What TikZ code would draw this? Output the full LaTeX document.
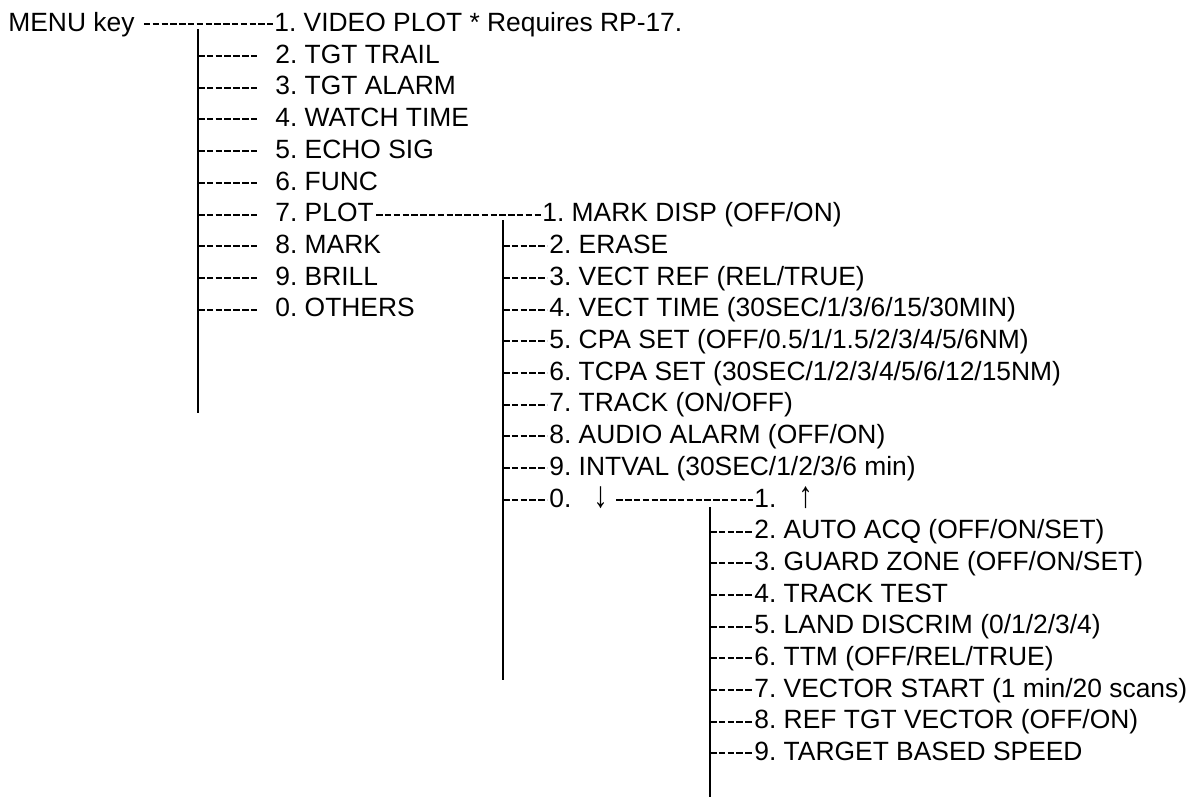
\documentclass[tikz,border=0pt]{standalone}
\usepackage{graphicx}
\usepackage{fontspec}
\newfontfamily\menufont{Liberation Sans}
\usetikzlibrary{calc}
\newcommand{\tallarrow}[1]{\raisebox{0pt}[9pt][0pt]{\scalebox{1.1}[1.4]{#1}}}

\begin{document}
\frenchspacing
\begin{tikzpicture}[
  x=0.5pt, y=-0.5pt,
  item/.style={anchor=base west, inner sep=0pt,
    font=\menufont\fontsize{13.2pt}{15pt}\selectfont},
  hy/.style={line width=1pt, dash pattern=on 3.25pt off 1.15pt},
  bar/.style={line width=0.8pt}
]
\useasboundingbox (0,0) rectangle (1200,799);

\node[item] (menu) at (8,31.5) {MENU key};
\node[item] (m1) at (274,31.5) {1. VIDEO PLOT * Requires RP-17.};
\draw[hy] ($(menu.base east)+(9,-7.2)$) -- ($(m1.base west)+(-1,-7.2)$);

\node[item] (m2) at (275,63.2) {2. TGT TRAIL};
\node[item] (m3) at (275,94.9) {3. TGT ALARM};
\node[item] (m4) at (275,126.6) {4. WATCH TIME};
\node[item] (m5) at (275,158.3) {5. ECHO SIG};
\node[item] (m6) at (275,190.0) {6. FUNC};
\node[item] (m7) at (275,221.7) {7. PLOT};
\node[item] (m8) at (275,253.4) {8. MARK};
\node[item] (m9) at (275,285.1) {9. BRILL};
\node[item] (m0) at (275,316.8) {0. OTHERS};

\coordinate (b1top) at (198,29);
\coordinate (b1bot) at (198,413);
\draw[bar] (b1top) -- (b1bot);
\foreach \n in {2,3,4,5,6,7,8,9,0}
  \draw[hy, shorten >=8.5pt] ($(b1top |- m\n.base west)+(0,-7.2)$) -- ($(m\n.base west)+(0,-7.2)$);

\node[item] (s1) at (542,221.7) {1. MARK DISP (OFF/ON)};
\draw[hy] ($(m7.base east)+(2,-7.2)$) -- ($(s1.base west)+(-1,-7.2)$);

\node[item] (s2) at (549,253.4) {2. ERASE};
\node[item] (s3) at (549,285.1) {3. VECT REF (REL/TRUE)};
\node[item] (s4) at (549,316.8) {4. VECT TIME (30SEC/1/3/6/15/30MIN)};
\node[item] (s5) at (549,348.5) {5. CPA SET (OFF/0.5/1/1.5/2/3/4/5/6NM)};
\node[item] (s6) at (549,380.2) {6. TCPA SET (30SEC/1/2/3/4/5/6/12/15NM)};
\node[item] (s7) at (549,411.9) {7. TRACK (ON/OFF)};
\node[item] (s8) at (549,443.6) {8. AUDIO ALARM (OFF/ON)};
\node[item] (s9) at (549,475.3) {9. INTVAL (30SEC/1/2/3/6 min)};
\node[item] (s0) at (549,507.0) {0.~~~\tallarrow{↓}};

\coordinate (b2top) at (503,220);
\coordinate (b2bot) at (503,680);
\draw[bar] (b2top) -- (b2bot);
\foreach \n in {2,3,4,5,6,7,8,9,0}
  \draw[hy, shorten >=1pt] ($(b2top |- s\n.base west)+(0,-7.2)$) -- ($(s\n.base west)+(0,-7.2)$);

\node[item] (t1) at (754,507.0) {1.~~~\tallarrow{↑}};
\draw[hy] ($(s0.base east)+(8,-7.2)$) -- ($(t1.base west)+(-1,-7.2)$);

\node[item] (t2) at (754,538.7) {2. AUTO ACQ (OFF/ON/SET)};
\node[item] (t3) at (754,570.4) {3. GUARD ZONE (OFF/ON/SET)};
\node[item] (t4) at (754,602.1) {4. TRACK TEST};
\node[item] (t5) at (754,633.8) {5. LAND DISCRIM (0/1/2/3/4)};
\node[item] (t6) at (754,665.5) {6. TTM (OFF/REL/TRUE)};
\node[item] (t7) at (754,697.2) {7. VECTOR START (1 min/20 scans)};
\node[item] (t8) at (754,728.9) {8. REF TGT VECTOR (OFF/ON)};
\node[item] (t9) at (754,760.6) {9. TARGET BASED SPEED};

\coordinate (b3top) at (710,507);
\coordinate (b3bot) at (710,797);
\draw[bar] (b3top) -- (b3bot);
\foreach \n in {2,3,4,5,6,7,8,9}
  \draw[hy, shorten >=1pt] ($(b3top |- t\n.base west)+(0,-7.2)$) -- ($(t\n.base west)+(0,-7.2)$);
\end{tikzpicture}
\end{document}
